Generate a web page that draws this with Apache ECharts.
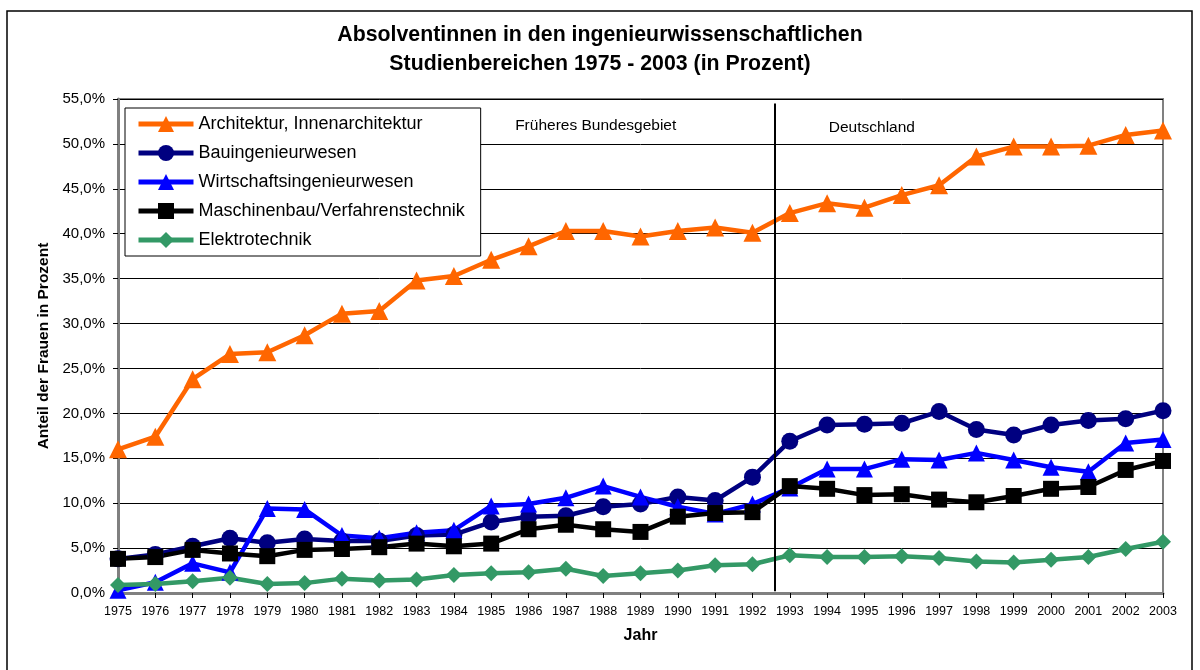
<!DOCTYPE html>
<html>
<head>
<meta charset="utf-8">
<script src="https://cdn.jsdelivr.net/npm/echarts@6/dist/echarts.min.js"></script>
<style>
  html, body { margin: 0; padding: 0; background: #fff; }
  #chart { width: 1200px; height: 670px; }
</style>
</head>
<body>
<div id="chart"></div>
<script>
var years = [1975, 1976, 1977, 1978, 1979, 1980, 1981, 1982, 1983, 1984, 1985, 1986, 1987, 1988, 1989,
  1990, 1991, 1992, 1993, 1994, 1995, 1996, 1997, 1998, 1999, 2000, 2001, 2002, 2003]

var architektur = [16.0, 17.4, 23.8, 26.6, 26.8, 28.7, 31.1, 31.4, 34.8, 35.3, 37.1, 38.6, 40.3, 40.3, 39.7,
  40.3, 40.7, 40.1, 42.3, 43.4, 42.9, 44.3, 45.4, 48.6, 49.7, 49.7, 49.8, 51.0, 51.5]
var bau = [3.8, 4.3, 5.2, 6.1, 5.6, 6.0, 5.8, 5.8, 6.4, 6.5, 7.9, 8.5, 8.6, 9.6, 9.9,
  10.7, 10.3, 12.9, 16.9, 18.7, 18.8, 18.9, 20.2, 18.2, 17.6, 18.7, 19.2, 19.4, 20.3]
var wirtschaft = [0.3, 1.2, 3.3, 2.3, 9.4, 9.3, 6.4, 6.1, 6.7, 7.0, 9.7, 9.9, 10.6, 11.9, 10.7,
  9.6, 8.8, 9.9, 11.7, 13.8, 13.8, 14.9, 14.8, 15.6, 14.8, 14.0, 13.5, 16.7, 17.1]
var maschinenbau = [3.8, 4.0, 4.8, 4.4, 4.1, 4.8, 4.9, 5.1, 5.5, 5.2, 5.5, 7.1, 7.6, 7.1, 6.8,
  8.5, 8.9, 9.0, 11.9, 11.6, 10.9, 11.0, 10.4, 10.1, 10.8, 11.6, 11.8, 13.7, 14.7]
var elektro = [0.9, 1.0, 1.3, 1.7, 1.0, 1.1, 1.6, 1.4, 1.5, 2.0, 2.2, 2.3, 2.7, 1.9, 2.2,
  2.5, 3.1, 3.2, 4.2, 4.0, 4.0, 4.1, 3.9, 3.5, 3.4, 3.7, 4.0, 4.9, 5.7]

var font = 'Arial, "Liberation Sans", sans-serif'

function pairs (arr) {
  return years.map(function (y, i) { return [y, arr[i]] })
}

function line (name, arr, color, symbol, size) {
  return {
    name: name,
    type: 'line',
    data: pairs(arr),
    symbol: symbol,
    symbolSize: size,
    lineStyle: { color: color, width: 4.5 },
    itemStyle: { color: color },
    animation: false,
    z: 3
  }
}

var series = [
  line('Architektur, Innenarchitektur', architektur, '#ff6600', 'triangle', 18),
  line('Bauingenieurwesen', bau, '#000080', 'circle', 17),
  line('Wirtschaftsingenieurwesen', wirtschaft, '#0000ff', 'triangle', 17),
  line('Maschinenbau/Verfahrenstechnik', maschinenbau, '#000000', 'rect', 16),
  line('Elektrotechnik', elektro, '#339966', 'diamond', 16)
]

// Trennlinie zwischen früherem Bundesgebiet und Deutschland
series.push({
  type: 'line',
  data: [],
  silent: true,
  animation: false,
  markLine: {
    symbol: 'none',
    silent: true,
    label: { show: false },
    lineStyle: { color: '#000', width: 2, type: 'solid' },
    data: [[{ coord: [1992.6, 54.5] }, { coord: [1992.6, 0.2] }]]
  },
  markPoint: {
    symbol: 'rect',
    symbolSize: 0,
    label: { show: true, color: '#000', fontSize: 15.5, fontFamily: font, formatter: '{b}' },
    data: [
      { name: 'Früheres Bundesgebiet', coord: [1987.8, 52.0] },
      { name: 'Deutschland', coord: [1995.2, 51.8] }
    ]
  }
})

var chart = echarts.init(document.getElementById('chart'))
chart.setOption({
  backgroundColor: '#fff',
  title: {
    text: 'Absolventinnen in den ingenieurwissenschaftlichen\nStudienbereichen 1975 - 2003 (in Prozent)',
    left: 'center',
    top: 16,
    textStyle: { fontSize: 21.3, fontWeight: 'bold', fontFamily: font, color: '#000', lineHeight: 29 }
  },
  graphic: [{
    type: 'rect',
    shape: { x: 7, y: 11, width: 1185, height: 700 },
    style: { fill: 'none', stroke: '#000', lineWidth: 1.5 },
    silent: true,
    z: -10
  }],
  legend: {
    orient: 'vertical',
    left: 125,
    top: 108,
    padding: [7, 16, 7, 11],
    itemWidth: 55,
    itemHeight: 20,
    itemGap: 11,
    borderColor: '#000',
    borderWidth: 1,
    backgroundColor: '#fff',
    lineStyle: { width: 5 },
    textStyle: { fontSize: 18, fontFamily: font, color: '#000' },
    data: series.slice(0, 5).map(function (s) { return s.name })
  },
  grid: {
    left: 118,
    right: 37,
    top: 99,
    bottom: 77,
    show: true,
    borderColor: '#808080',
    borderWidth: 2
  },
  xAxis: {
    type: 'value',
    min: 1975,
    max: 2003,
    interval: 1,
    name: 'Jahr',
    nameLocation: 'middle',
    nameGap: 35,
    nameTextStyle: { fontSize: 16, fontWeight: 'bold', fontFamily: font, color: '#000' },
    axisLine: { lineStyle: { color: '#808080', width: 3 } },
    axisTick: { show: true, length: 5, lineStyle: { color: '#000' } },
    axisLabel: {
      fontSize: 12.5,
      fontFamily: font,
      color: '#000',
      margin: 12,
      formatter: function (v) { return String(v) }
    },
    splitLine: { show: false }
  },
  yAxis: {
    type: 'value',
    min: 0,
    max: 55,
    interval: 5,
    name: 'Anteil der Frauen in Prozent',
    nameLocation: 'middle',
    nameGap: 65,
    nameTextStyle: { fontSize: 15.5, fontWeight: 'bold', fontFamily: font, color: '#000' },
    axisLine: { show: true, lineStyle: { color: '#808080', width: 3 } },
    axisTick: { show: true, length: 5, lineStyle: { color: '#000' } },
    axisLabel: {
      fontSize: 15,
      fontFamily: font,
      color: '#000',
      margin: 13,
      formatter: function (v) { return v.toFixed(1).replace('.', ',') + '%' }
    },
    splitLine: { show: true, lineStyle: { color: '#000', width: 1 } }
  },
  series: series
})
</script>
</body>
</html>
